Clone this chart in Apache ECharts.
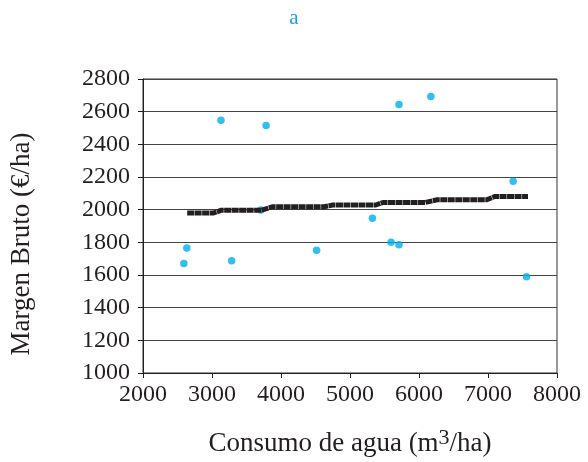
<!DOCTYPE html>
<html>
<head>
<meta charset="utf-8">
<script src="https://cdn.jsdelivr.net/npm/echarts@6/dist/echarts.min.js"></script>
<style>
  html, body { margin: 0; padding: 0; background: #fff; }
  #main { width: 588px; height: 462px; }
</style>
</head>
<body>
<div id="main"></div>
<script>
// observed farms: water use (m3/ha) and gross margin (€/ha)
const waterUse = [2592, 2635, 3130, 3285, 3784, 3708, 4516, 5325, 5595, 5710, 5710, 6172, 7365, 7558];
const grossMargin = [1671, 1766, 2547, 1687, 2515, 1998, 1752, 1947, 1801, 1785, 2644, 2693, 2174, 1590];

// stepped fitted line (ends of each flat step)
const fitX = [2640, 3020, 3130, 3710, 3880, 4620, 4750, 5370, 5480, 6090, 6260, 6980, 7100, 7580];
const fitY = [1979, 1979, 1996, 1996, 2018, 2018, 2028, 2028, 2044, 2044, 2060, 2060, 2081, 2081];

const xTicks = [2000, 3000, 4000, 5000, 6000, 7000, 8000];
const yTicks = [1000, 1200, 1400, 1600, 1800, 2000, 2200, 2400, 2600, 2800];

const font = '"Liberation Serif", "Times New Roman", serif';

let chartDom = document.getElementById('main');
let myChart = echarts.init(chartDom, null, { renderer: 'canvas' });

const option = {
  animation: false,
  title: {
    text: 'a',
    left: 'center',
    top: 3,
    textStyle: { color: '#1aa3dd', fontFamily: font, fontSize: 21, fontWeight: 'normal' }
  },
  grid: {
    left: 142, right: 31, top: 79, bottom: 87,
    show: true, borderColor: '#333', borderWidth: 1, backgroundColor: 'transparent'
  },
  xAxis: {
    type: 'value',
    min: xTicks[0], max: xTicks[xTicks.length - 1], interval: 1000,
    name: '{a|Consumo de agua (m}{s|3}{a|/ha)}',
    nameLocation: 'middle', nameGap: 54,
    nameTextStyle: {
      rich: {
        a: { fontFamily: font, fontSize: 27, color: '#231f20' },
        s: { fontFamily: font, fontSize: 22, color: '#231f20', verticalAlign: 'bottom', padding: [0, 0, 11, 0] }
      }
    },
    axisLine: { lineStyle: { color: '#231f20', width: 1 } },
    axisTick: { show: true, inside: false, length: 5, lineStyle: { color: '#231f20' } },
    axisLabel: { color: '#231f20', fontFamily: font, fontSize: 24, margin: 10, formatter: v => String(v) },
    splitLine: { show: false }
  },
  yAxis: {
    type: 'value',
    min: yTicks[0], max: yTicks[yTicks.length - 1], interval: 200,
    name: 'Margen Bruto (€/ha)',
    nameLocation: 'middle', nameGap: 108, nameRotate: 90,
    nameTextStyle: { fontFamily: font, fontSize: 27, color: '#231f20', padding: [0, 36, 0, 0] },
    axisLine: { show: true, lineStyle: { color: '#231f20', width: 1 } },
    axisTick: { show: true, inside: false, length: 5, lineStyle: { color: '#231f20' } },
    axisLabel: { color: '#231f20', fontFamily: font, fontSize: 24, margin: 13, formatter: v => String(v) },
    splitLine: { show: true, lineStyle: { color: '#444', width: 1 } }
  },
  series: [
    {
      name: 'fit',
      type: 'line',
      data: fitX.map((x, i) => [x, fitY[i]]),
      showSymbol: false,
      lineStyle: { color: '#231f20', width: 5, type: [7, 0.5], cap: 'butt', join: 'miter' },
      z: 2
    },
    {
      name: 'obs',
      type: 'scatter',
      data: waterUse.map((x, i) => [x, grossMargin[i]]),
      symbol: 'circle',
      symbolSize: 7.5,
      itemStyle: { color: '#00aeef' },
      z: 1
    }
  ]
};

myChart.setOption(option);
</script>
</body>
</html>
